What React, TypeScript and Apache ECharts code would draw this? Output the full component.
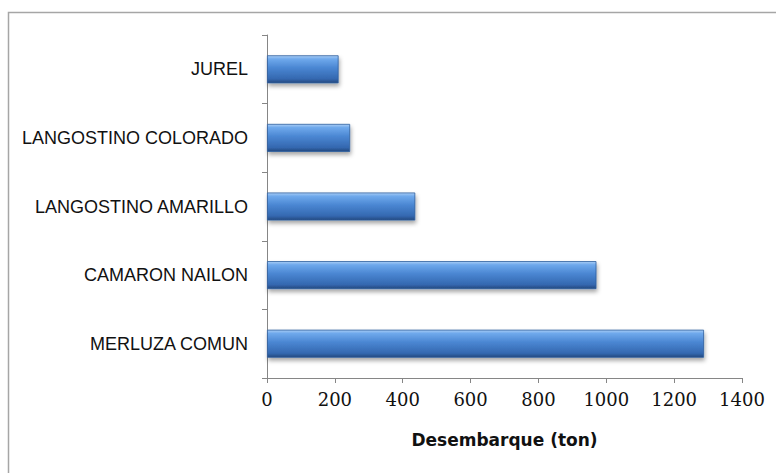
import React, { useEffect, useRef } from "react";
import * as echarts from "echarts";

const categories = [
  "MERLUZA COMUN",
  "CAMARON NAILON",
  "LANGOSTINO AMARILLO",
  "LANGOSTINO COLORADO",
  "JUREL",
];
const values = [1288, 971, 437, 245, 211];
const xTicks = { min: 0, max: 1400, interval: 200 };
const xAxisTitle = "Desembarque (ton)";

export default function App() {
  const ref = useRef<HTMLDivElement>(null);
  useEffect(() => {
    if (!ref.current) return;
    const chart = echarts.init(ref.current, null, { renderer: "svg" });
    chart.setOption({
      animation: false,
      backgroundColor: "#ffffff",
      graphic: [
        {
          type: "rect",
          shape: { x: 8.5, y: 12.5, width: 800, height: 500 },
          style: { fill: "none", stroke: "#a6a6a6", lineWidth: 1.5 },
          silent: true,
        },
      ],
      grid: { left: 267, right: 34, top: 35, bottom: 95, containLabel: false },
      xAxis: {
        type: "value",
        min: xTicks.min,
        max: xTicks.max,
        interval: xTicks.interval,
        name: xAxisTitle,
        nameLocation: "middle",
        nameGap: 53,
        nameTextStyle: {
          fontFamily: "DejaVu Sans",
          fontWeight: "bold",
          fontSize: 17,
          color: "#111111",
        },
        splitLine: { show: false },
        axisLine: { show: true, lineStyle: { color: "#868686", width: 1 } },
        axisTick: { show: true, length: 5, lineStyle: { color: "#868686" } },
        axisLabel: {
          margin: 12,
          fontFamily: "DejaVu Serif",
          fontSize: 18,
          color: "#111111",
          formatter: (v: number) => String(v),
        },
      },
      yAxis: {
        type: "category",
        data: categories,
        axisLine: { show: true, lineStyle: { color: "#868686", width: 1 } },
        axisTick: { show: true, length: 5, lineStyle: { color: "#868686" } },
        axisLabel: {
          margin: 19,
          fontFamily: "Liberation Sans",
          fontSize: 18,
          color: "#111111",
        },
        splitLine: { show: false },
      },
      series: [
        {
          type: "bar",
          data: values,
          barWidth: 28,
          itemStyle: {
            color: new echarts.graphic.LinearGradient(0, 0, 0, 1, [
              { offset: 0, color: "#a9cdf5" },
              { offset: 0.12, color: "#6fa9ec" },
              { offset: 0.45, color: "#4a86d2" },
              { offset: 0.85, color: "#3468b0" },
              { offset: 1, color: "#24487e" },
            ]),
            borderColor: "#2f5f9e",
            borderWidth: 0.8,
            shadowBlur: 4,
            shadowOffsetX: 1,
            shadowOffsetY: 3,
            shadowColor: "rgba(0,0,0,0.35)",
          },
        },
      ],
    });
    return () => chart.dispose();
  }, []);
  return (
    <div
      ref={ref}
      style={{ position: "absolute", left: 0, top: 0, width: 776, height: 473 }}
    />
  );
}
